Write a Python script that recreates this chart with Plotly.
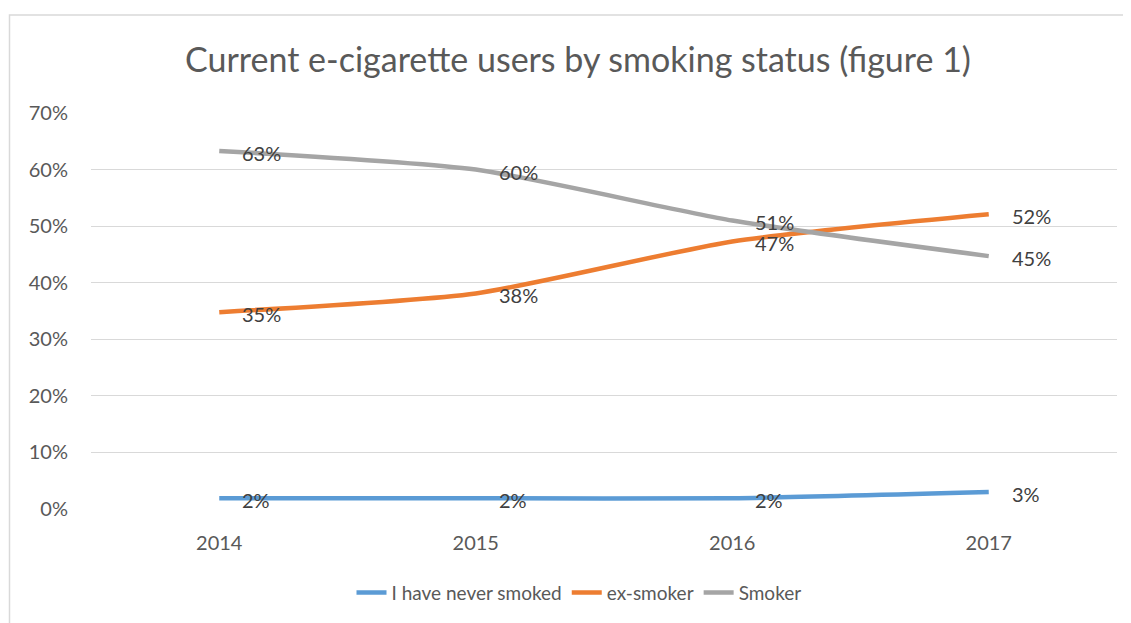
import plotly.graph_objects as go

years = ["2014", "2015", "2016", "2017"]
never_smoked = [1.9, 1.9, 1.9, 3.0]
ex_smoker = [34.8, 38.1, 47.3, 52.1]
smoker = [63.3, 60.0, 51.0, 44.7]

series = [
    ("I have never smoked", never_smoked, "#5B9BD5"),
    ("ex-smoker", ex_smoker, "#ED7D31"),
    ("Smoker", smoker, "#A5A5A5"),
]

# the page adds an 8px body margin; figure is sized/offset to compensate
OFF = 8
W, H = 1131 - OFF, 623 - OFF
L, T = 91 - OFF, 113 - OFF
PW, PH = 1026, 398
B = H - T - PH
R = W - L - PW
BOTTOM = T + PH  # figure-pixel y of plot bottom

FONT = "Lato"
fig = go.Figure()
annotations = []
for name, vals, color in series:
    fig.add_trace(go.Scatter(
        x=years, y=vals, name=name, mode="lines",
        line=dict(color=color, width=4.5, shape="spline", smoothing=0.6),
        hoverinfo="skip",
    ))
    for i, yv in enumerate(vals):
        annotations.append(dict(
            x=i, y=yv, xref="x", yref="y", text=f"{round(yv)}%",
            showarrow=False, xanchor="left", yanchor="middle",
            xshift=21, yshift=-2,
            font=dict(family=FONT, size=20, color="#404040"),
        ))

fig.update_layout(
    width=W, height=H,
    margin=dict(l=L, r=R, t=T, b=B),
    paper_bgcolor="white", plot_bgcolor="white",
    font=dict(family=FONT, color="#595959"),
    title=dict(
        text="Current e-cigarette users by smoking status (figure 1)",
        x=(578 - 91) / PW, xref="paper", xanchor="center",
        y=1 - (60 - OFF) / H, yref="container", yanchor="middle",
        font=dict(family=FONT, size=34, color="#595959"),
    ),
    xaxis=dict(
        type="category", range=[-0.5, 3.5], showgrid=False, zeroline=False,
        showline=False, ticks="", ticklabelstandoff=20,
        tickfont=dict(family=FONT, size=20, color="#595959"),
    ),
    yaxis=dict(
        range=[0, 70], dtick=10, ticksuffix="%", showgrid=True,
        gridcolor="#D9D9D9", gridwidth=1.3, zeroline=False, showline=False,
        ticks="", ticklabelstandoff=22,
        tickfont=dict(family=FONT, size=20, color="#595959"),
    ),
    legend=dict(
        orientation="h", x=(579 - 91) / PW, xanchor="center",
        y=(BOTTOM - (595 - OFF)) / PH, yanchor="middle",
        font=dict(family=FONT, size=19, color="#595959"),
        itemwidth=30,
    ),
    annotations=annotations,
    shapes=[dict(
        type="rect", xref="paper", yref="paper",
        x0=(9.5 - 91) / PW, x1=1.3, y0=-0.6,
        y1=(BOTTOM - (14.5 - OFF)) / PH,
        line=dict(color="#D9D9D9", width=1.5), layer="below",
    )],
)

fig.write_html("out.html")
